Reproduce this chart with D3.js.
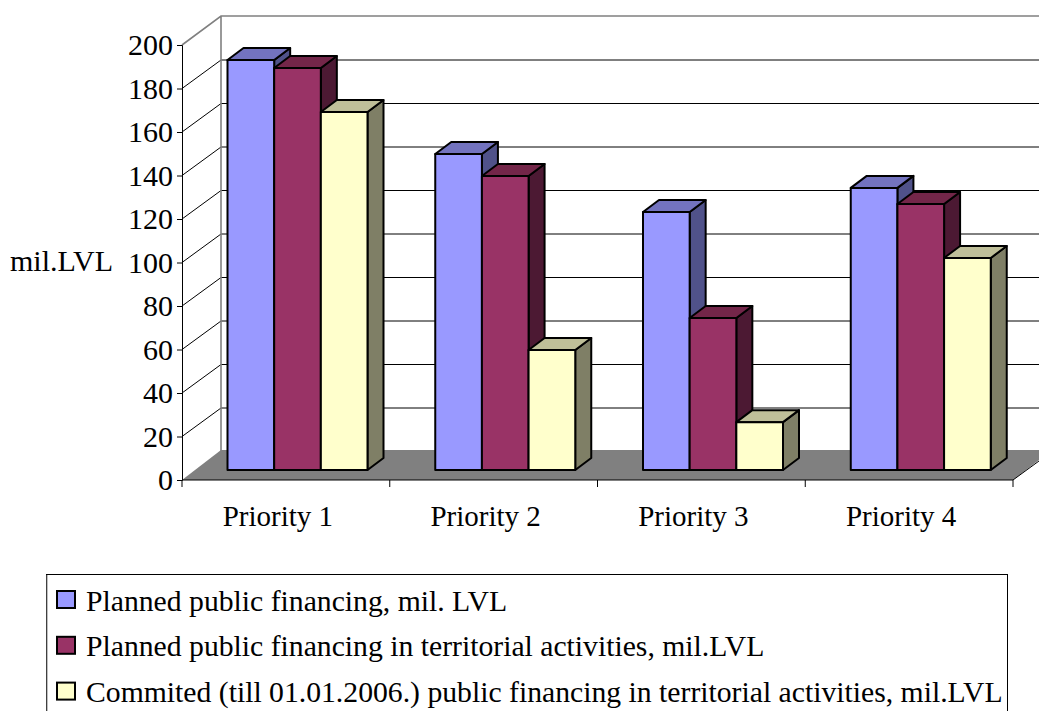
<!DOCTYPE html>
<html><head><meta charset="utf-8">
<script src="https://cdn.jsdelivr.net/npm/d3@7/dist/d3.min.js"></script>
<style>html,body{margin:0;padding:0;background:#fff;overflow:hidden}svg{display:block}text{font-family:"Liberation Serif",serif;fill:#000}</style>
</head><body><svg id="c" width="1039" height="711"></svg>
<script>
const categories = ["Priority 1","Priority 2","Priority 3","Priority 4"];
const seriesNames = ["Planned public financing, mil. LVL","Planned public financing in territorial activities, mil.LVL","Commited (till 01.01.2006.) public financing in territorial activities, mil.LVL"];
const planned = [188.5,145.3,118.6,129.7];
const territorial = [184.8,135.2,69.9,122.3];
const committed = [164.6,55.2,22,97.5];
const yTicks = [0,20,40,60,80,100,120,140,160,180,200];
const colors = ["#9999FF","#993366","#FFFFCC"];
const topColors = ["#7373BF","#732649","#BFBF99"];
const sideColors = ["#50528A","#4C1933","#7F7F66"];
const values = [planned,territorial,committed];

const svg = d3.select("#c");
const y = d3.scaleLinear().domain([0,200]).range([480,45]);
const x0 = d3.scaleBand().domain(categories).range([182,1013]);
const x1 = d3.scaleBand().domain([0,1,2]).range([45.5,185.5]);
const wall = {dx:39,dy:-28.5}, barShift = {dy:-10}, barDepth = {dx:16,dy:-12};

// floor
svg.append("polygon").attr("fill","#808080")
  .attr("points",[[182,480],[221,450],[1052,450],[1013,480]].join(" "));
// back wall grid
svg.append("g").selectAll("line").data(yTicks.filter(t=>t>0&&t<200)).join("line")
  .attr("x1",221).attr("x2",1039).attr("y1",d=>y(d)+wall.dy).attr("y2",d=>y(d)+wall.dy)
  .attr("stroke","#000").attr("stroke-width",1);
// left wall grid
svg.append("g").selectAll("line").data(yTicks.filter(t=>t>0&&t<200)).join("line")
  .attr("x1",182).attr("x2",221).attr("y1",d=>y(d)).attr("y2",d=>y(d)+wall.dy)
  .attr("stroke","#000").attr("stroke-width",1);
// wall frame
svg.append("path").attr("fill","none").attr("stroke","#808080").attr("stroke-width",1.6)
  .attr("d",`M182,45L221,16H1039M221,16V451`);
// axes
const yAxis = d3.axisLeft(y).tickValues(yTicks).tickSize(5).tickFormat(d3.format("d"));
const gy = svg.append("g").attr("transform","translate(182,0)").call(yAxis);
gy.selectAll("text").attr("x",-9).attr("font-size",30).attr("dy","0.33em");
const xTickVals = categories.map(c=>x0(c)).concat([x0.range()[1]]);
const gx = svg.append("g");
gx.append("line").attr("x1",182).attr("x2",1013).attr("y1",480).attr("y2",480).attr("stroke","#000").attr("stroke-width",1.2);
gx.append("line").attr("x1",1013).attr("x2",1039).attr("y1",480).attr("y2",480+wall.dy*26/39).attr("stroke","#000");
gx.selectAll(".t").data(xTickVals).join("line").attr("x1",d=>d).attr("x2",d=>d).attr("y1",480).attr("y2",487).attr("stroke","#000");
gx.selectAll("text").data(categories).join("text")
  .attr("x",c=>x0(c)+x0.bandwidth()/2-8).attr("y",526).attr("text-anchor","middle").attr("font-size",29).text(c=>c);
gy.select(".domain").attr("stroke","#000");
// y title
svg.append("text").attr("x",10).attr("y",271).attr("font-size",30).text("mil.LVL");
// bars
const base = y(0)+barShift.dy;
const scale = v => y(0)-y(v);
const bars = svg.append("g").attr("stroke","#000").attr("stroke-width",2).attr("stroke-linejoin","round");
categories.forEach((c,ci)=>{
  values.forEach((vals,si)=>{
    const l = x0(c)+x1(si), r = l+x1.bandwidth(), b = base, t = base-scale(vals[ci]);
    const g = bars.append("g");
    g.append("polygon").attr("fill",sideColors[si])
      .attr("points",[[r,t],[r+barDepth.dx,t+barDepth.dy],[r+barDepth.dx,b+barDepth.dy],[r,b]].join(" "));
    g.append("polygon").attr("fill",topColors[si])
      .attr("points",[[l,t],[l+barDepth.dx,t+barDepth.dy],[r+barDepth.dx,t+barDepth.dy],[r,t]].join(" "));
    g.append("rect").attr("fill",colors[si]).attr("x",l).attr("y",t).attr("width",r-l).attr("height",b-t);
  });
});
// legend
svg.append("rect").attr("x",46.5).attr("y",574.5).attr("width",961).attr("height",150).attr("fill","#fff").attr("stroke","#000");
svg.append("line").attr("x1",47).attr("x2",47).attr("y1",575).attr("y2",711).attr("stroke","#808080").attr("stroke-width",1);
const leg = svg.append("g");
seriesNames.forEach((n,i)=>{
  const ly = 599.5+45.8*i;
  leg.append("rect").attr("x",57).attr("y",ly-8.5).attr("width",18).attr("height",17).attr("fill",colors[i]).attr("stroke","#000").attr("stroke-width",2);
  leg.append("text").attr("x",86).attr("y",ly+11).attr("font-size",29.7).text(n);
});
</script></body></html>
